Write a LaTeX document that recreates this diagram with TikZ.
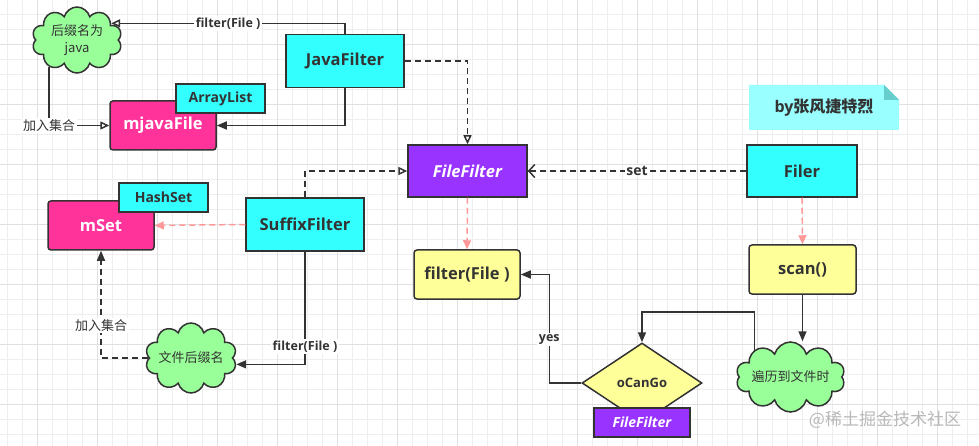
\documentclass[tikz,border=0pt]{standalone}
\usepackage{fontspec}
\setmainfont{Open Sans}
\newfontfamily\cjk{Noto Sans CJK SC}
\usetikzlibrary{arrows.meta,shapes.geometric,shapes.symbols,calc,backgrounds}
\definecolor{linec}{HTML}{333333}
\definecolor{cyanbox}{HTML}{33FFFF}
\definecolor{pinkbox}{HTML}{FF3399}
\definecolor{purplebox}{HTML}{9933FF}
\definecolor{yellowbox}{HTML}{FFFF99}
\definecolor{greencloud}{HTML}{99FF99}
\definecolor{notefill}{HTML}{99FFFF}
\definecolor{notefold}{HTML}{66CCCC}
\definecolor{pinkline}{HTML}{FF9999}
\definecolor{gridminor}{HTML}{EEEEEE}
\definecolor{gridmajor}{HTML}{E0E0E0}
\tikzstyle{box} = [draw=linec,line width=1.5pt,text=linec,inner sep=0pt,font=\bfseries\fontsize{16.5}{19}\selectfont]
\tikzstyle{cls} = [box,fill=cyanbox,minimum width=#1,minimum height=53pt]
\tikzstyle{coll} = [box,fill=pinkbox,text=white,rounded corners=3pt,minimum width=106pt,minimum height=49pt]
\tikzstyle{tag} = [box,fill=cyanbox,minimum width=89pt,minimum height=29pt,font=\bfseries\fontsize{14}{16}\selectfont]
\tikzstyle{intf} = [box,fill=purplebox,text=white,font=\bfseries\itshape\fontsize{16.5}{19}\selectfont]
\tikzstyle{meth} = [box,fill=yellowbox,rounded corners=3pt,minimum width=106pt,minimum height=49pt]
\tikzstyle{puff} = [cloud,cloud puffs=10,cloud ignores aspect,draw=linec,line width=1.5pt,fill=greencloud,text=linec,align=center,inner sep=0pt,font=\cjk\fontsize{13}{17}\selectfont]
\tikzstyle{lbl} = [fill=white,inner sep=1.5pt,text=linec,font=\bfseries\fontsize{12.5}{15}\selectfont]
\tikzstyle{link} = [draw=linec,line width=1.5pt]
\tikzstyle{dlink} = [link,dash pattern=on 6pt off 4pt]
\tikzstyle{plink} = [draw=pinkline,line width=1.5pt,dash pattern=on 6pt off 4pt,-{Triangle[length=9pt,width=8pt]}]
\tikzstyle{impl} = [-{Triangle[length=9pt,width=8pt,fill=white]}]
\tikzstyle{call} = [-{Triangle[length=10pt,width=8pt]}]

\begin{document}
\begin{tikzpicture}[x=1pt,y=-1pt]

\useasboundingbox (0,0) rectangle (979,446);
\begin{scope}[on background layer]
\fill[white] (0,0) rectangle (979,446);
\foreach \i in {0,...,64} \draw[gridminor,line width=0.8pt] (7.3+15*\i,0) -- (7.3+15*\i,446);
\foreach \i in {0,...,28} \draw[gridminor,line width=0.8pt] (0,14+15*\i) -- (979,14+15*\i);
\foreach \i in {0,...,15} \draw[gridmajor,line width=0.8pt] (37.3+60*\i,0) -- (37.3+60*\i,446);
\foreach \i in {0,...,6} \draw[gridmajor,line width=0.8pt] (0,44+60*\i) -- (979,44+60*\i);
\fill[notefill] (749,85) -- (884,85) -- (899,100) -- (899,130) -- (749,130) -- cycle;
\fill[notefold] (884,85) -- (899,100) -- (884,100) -- cycle;
\end{scope}

\node[puff,minimum width=90pt,minimum height=66pt] (javacloud) at (77,40) {后缀名为\\java};
\node[cls=118pt] (java) at (345,61) {JavaFilter};
\node[coll] (mjava) at (163,125.5) {mjavaFile};
\node[tag] (arraylist) at (220.5,98.5) {ArrayList};
\node[intf,minimum width=119pt,minimum height=52pt] (ff) at (467.5,171) {FileFilter};
\node[cls=110pt,minimum height=52pt] (filer) at (802,171) {Filer};
\node[text=linec,font=\bfseries\fontsize{16}{19}\selectfont] (note) at (824,107.5) {by{\cjk 张风捷特烈}};
\node[cls=118pt] (suffix) at (305,224.5) {SuffixFilter};
\node[coll] (mset) at (101,225.5) {mSet};
\node[tag] (hashset) at (163.5,197.5) {HashSet};
\node[puff,minimum width=90pt,minimum height=70pt] (suffixcloud) at (191,358) {文件后缀名};
\node[meth] (ffcall) at (467,274.5) {filter(File )};
\node[meth,minimum width=107pt] (scan) at (802.5,269.5) {scan()};
\node[puff,minimum width=106pt,minimum height=70pt] (walkcloud) at (790.5,377) {遍历到文件时};
\node[diamond,draw=linec,line width=1.5pt,fill=yellowbox,text=linec,minimum width=120pt,minimum height=80pt,inner sep=0pt,font=\bfseries\fontsize{13}{15}\selectfont] (cando) at (642,383) {oCanGo};
\node[intf,minimum width=96pt,minimum height=29pt,font=\bfseries\itshape\fontsize{14}{16}\selectfont] (ffsmall) at (642,422.5) {FileFilter};
\node[text=black!28,font=\cjk\fontsize{17}{20}\selectfont] (mark) at (885,420) {@稀土掘金技术社区};

\draw[link,impl] (java.north) |- node[lbl,pos=0.75] {filter(File )} (javacloud.26);
\draw[link,call] (java.south) |- (mjava.east);
\draw[link,impl] (javacloud.224) |- node[lbl,font=\cjk\fontsize{13}{15}\selectfont] {加入集合} (mjava.west);
\draw[dlink,impl] (java.east) -| (ff.north);
\draw[dlink,impl] (suffix.north) |- (ff.west);
\draw[dlink,-{Straight Barb[length=6pt,width=13pt]}] (filer.west) -- node[lbl,font=\bfseries\fontsize{14}{16}\selectfont] {set} (ff.east);
\draw[plink] (suffix.west) -- (mset.east);
\draw[link,call] (suffix.south) |- node[lbl,pos=0.42] {filter(File )} (suffixcloud.352);
\draw[dlink,call] (suffixcloud.west) -| node[lbl,pos=0.65,font=\cjk\fontsize{13}{15}\selectfont] {加入集合} (mset.south);
\draw[plink] (ff.south) -- (ffcall.north);
\draw[plink] (filer.south) -- (scan.north);
\draw[link,call] (scan.south) -- (scan.south |- walkcloud.north);
\draw[link,call] (walkcloud.143) -- ++(0,-38) -| (cando.north);
\draw[link,call] (cando.west) -- ++(-32,0) |- node[lbl,pos=0.2] {yes} (ffcall.east);

\end{tikzpicture}
\end{document}
